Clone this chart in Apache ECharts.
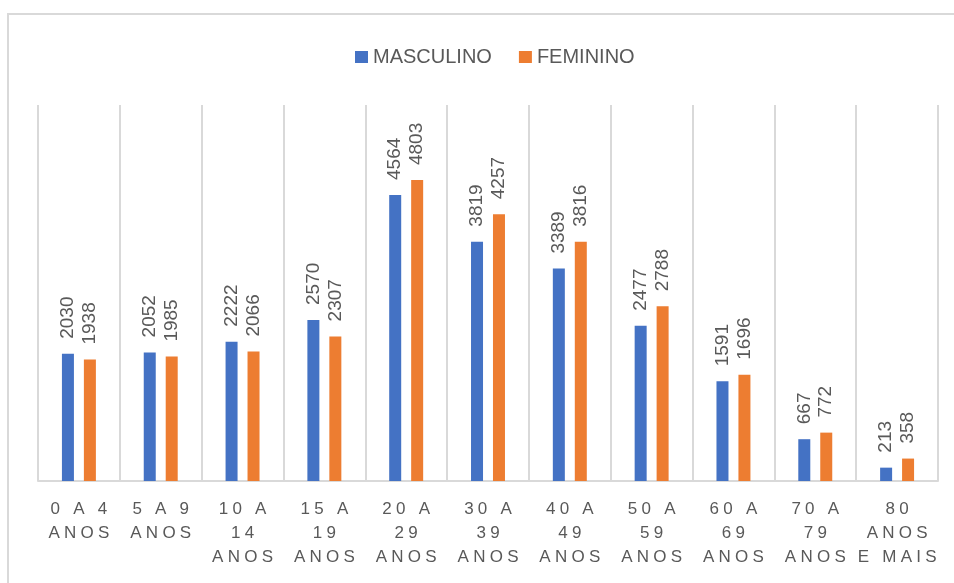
<!DOCTYPE html>
<html>
<head>
<meta charset="utf-8">
<script src="https://cdn.jsdelivr.net/npm/echarts@6/dist/echarts.min.js"></script>
<style>
  html, body { margin: 0; padding: 0; background: #fff; }
  #frame { position: absolute; left: 7px; top: 13px; width: 960px; height: 600px;
           border: 2px solid #d9d9d9; box-sizing: border-box; }
  #chart { position: absolute; left: 0; top: 0; width: 954px; height: 583px; }
</style>
</head>
<body>
<div id="frame"></div>
<div id="chart"></div>
<script>
// faixas etárias
var categorias = ['0 A 4\nANOS', '5 A 9\nANOS', '10 A\n14\nANOS', '15 A\n19\nANOS', '20 A\n29\nANOS',
    '30 A\n39\nANOS', '40 A\n49\nANOS', '50 A\n59\nANOS', '60 A\n69\nANOS', '70 A\n79\nANOS', '80\nANOS\nE MAIS'];
var masculino = [2030, 2052, 2222, 2570, 4564, 3819, 3389, 2477, 1591, 667, 213];
var feminino = [1938, 1985, 2066, 2307, 4803, 4257, 3816, 2788, 1696, 772, 358];

var chart = echarts.init(document.getElementById('chart'));

// espaçamento entre letras (como no Excel)
function espacar(txt) {
    return txt.split('\n').map(function (linha) {
        return linha.split('').join('\u2005');
    }).join('\n');
}

var rotulo = {
    show: true,
    position: 'top',
    rotate: 90,
    align: 'left',
    verticalAlign: 'middle',
    distance: 15,
    color: '#595959',
    fontSize: 19,
    fontFamily: 'Liberation Sans'
};

var option = {
    backgroundColor: 'transparent',
    animation: false,
    legend: {
        top: 42,
        left: 350,
        itemWidth: 13,
        itemHeight: 12,
        itemGap: 27,
        icon: 'rect',
        textStyle: { color: '#595959', fontSize: 20, fontFamily: 'Liberation Sans' },
        data: ['MASCULINO', 'FEMININO']
    },
    grid: { left: 38, right: 16, top: 105, bottom: 102 },
    xAxis: {
        type: 'category',
        data: categorias,
        axisLine: { lineStyle: { color: '#d9d9d9', width: 2 } },
        axisTick: { show: false },
        splitLine: { show: true, interval: 0, lineStyle: { color: '#d9d9d9', width: 2 } },
        axisLabel: {
            interval: 0,
            margin: 16,
            color: '#595959',
            fontSize: 17,
            lineHeight: 24,
            fontFamily: 'Liberation Sans',
            formatter: espacar
        }
    },
    yAxis: {
        type: 'value',
        min: 0,
        max: 6000,
        show: false,
        splitLine: { show: false }
    },
    series: [
        {
            name: 'MASCULINO',
            type: 'bar',
            barWidth: 12,
            barGap: '83%',
            itemStyle: { color: '#4472C4' },
            label: rotulo,
            data: masculino
        },
        {
            name: 'FEMININO',
            type: 'bar',
            barWidth: 12,
            itemStyle: { color: '#ED7D31' },
            label: rotulo,
            data: feminino
        }
    ]
};

chart.setOption(option);
</script>
</body>
</html>
